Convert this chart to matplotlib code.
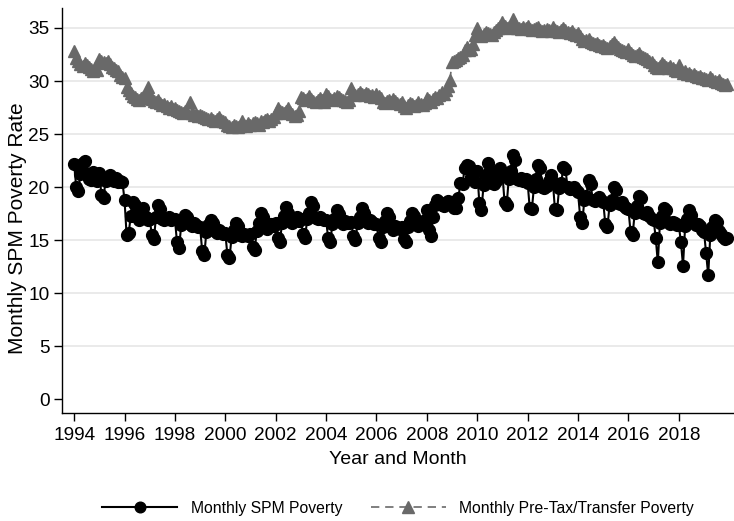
import numpy as np
import pandas as pd
import matplotlib
matplotlib.use("Agg")
import matplotlib.pyplot as plt

plt.rc('font', family=['Liberation Sans', 'DejaVu Sans'])

# monthly poverty rates, Jan 1994 - Dec 2019 (one row per year)
spm_rate = [
    22.2, 20.0, 19.6, 21.2, 22.3, 22.5, 21.2, 20.8, 20.7, 21.4, 20.9, 20.6,  # 1994
    21.3, 19.3, 19.0, 20.6, 21.0, 21.1, 20.8, 20.6, 20.9, 20.5, 20.6, 20.5,  # 1995
    18.8, 15.5, 15.7, 17.3, 18.6, 18.3, 17.2, 16.9, 17.6, 18.0, 17.2, 16.9,  # 1996
    17.0, 15.5, 15.1, 17.2, 18.3, 17.9, 17.0, 16.9, 17.0, 17.2, 16.9, 17.0,  # 1997
    17.0, 14.8, 14.3, 16.4, 17.0, 17.4, 17.2, 16.5, 16.3, 16.6, 16.4, 16.2,  # 1998
    16.2, 14.0, 13.6, 15.8, 16.4, 16.9, 16.6, 15.9, 15.7, 16.0, 15.8, 15.6,  # 1999
    15.7, 13.6, 13.3, 15.3, 16.0, 16.6, 16.3, 15.5, 15.4, 15.6, 15.5, 15.4,  # 2000
    15.6, 14.4, 14.1, 15.9, 16.6, 17.6, 17.2, 16.3, 16.1, 16.4, 16.5, 16.3,  # 2001
    16.6, 15.2, 14.8, 16.6, 17.3, 18.1, 17.6, 16.8, 16.6, 17.0, 17.2, 16.8,  # 2002
    17.0, 15.6, 15.2, 17.0, 17.6, 18.6, 18.2, 17.1, 17.0, 17.2, 17.0, 16.9,  # 2003
    16.9, 15.2, 14.8, 16.5, 17.0, 17.8, 17.5, 16.7, 16.5, 16.8, 16.6, 16.6,  # 2004
    16.7, 15.4, 15.0, 16.6, 17.2, 18.0, 17.6, 16.8, 16.6, 16.9, 16.7, 16.5,  # 2005
    16.5, 15.2, 14.8, 16.2, 16.8, 17.6, 17.2, 16.2, 16.0, 16.3, 16.2, 16.1,  # 2006
    16.2, 15.1, 14.8, 16.2, 16.8, 17.6, 17.3, 16.5, 16.3, 16.6, 16.8, 16.5,  # 2007
    17.8, 16.0, 15.4, 17.2, 18.3, 18.8, 18.6, 18.3, 18.2, 18.5, 18.7, 18.4,  # 2008
    18.6, 18.0, 18.0, 19.0, 20.4, 20.3, 21.8, 22.1, 22.0, 21.0, 20.8, 20.5,  # 2009
    21.5, 18.5, 17.8, 20.2, 21.0, 22.3, 21.6, 20.4, 20.3, 20.6, 21.0, 21.8,  # 2010
    21.2, 18.6, 18.3, 20.8, 21.5, 23.0, 22.6, 20.8, 20.7, 20.9, 20.6, 20.8,  # 2011
    20.4, 18.0, 17.9, 20.0, 20.8, 22.1, 21.8, 20.0, 19.9, 20.1, 20.6, 21.1,  # 2012
    20.5, 17.9, 17.8, 19.9, 20.4, 21.9, 21.7, 20.0, 19.8, 19.9, 20.0, 19.7,  # 2013
    19.5, 17.2, 16.6, 18.8, 19.2, 20.7, 20.3, 18.8, 18.7, 18.9, 19.1, 18.8,  # 2014
    18.6, 16.5, 16.2, 18.3, 18.8, 20.0, 19.7, 18.5, 18.4, 18.6, 18.2, 18.0,  # 2015
    17.9, 15.8, 15.5, 17.6, 18.2, 19.2, 19.0, 17.6, 17.5, 17.7, 17.3, 17.0,  # 2016
    16.9, 15.2, 12.9, 16.6, 17.3, 18.0, 17.8, 16.7, 16.5, 16.7, 16.6, 16.4,  # 2017
    16.4, 14.8, 12.6, 16.3, 17.0, 17.8, 17.4, 16.6, 16.4, 16.5, 16.3, 16.0,  # 2018
    15.8, 13.8, 11.7, 15.5, 16.2, 16.9, 16.7, 15.9, 15.6, 15.3, 15.1, 15.2,  # 2019
]

pretax_rate = [
    32.8, 32.2, 31.9, 31.6, 31.4, 31.7, 31.5, 31.3, 31.1, 30.9, 31.2, 31.0,  # 1994
    32.1, 31.9, 31.8, 31.7, 31.9, 31.6, 31.3, 31.2, 31.0, 30.9, 30.6, 30.4,  # 1995
    30.3, 29.4, 29.2, 28.9, 28.6, 28.5, 28.3, 28.2, 28.4, 28.5, 28.7, 29.4,  # 1996
    28.6, 28.3, 28.1, 28.0, 28.2, 27.9, 27.7, 27.8, 27.6, 27.5, 27.6, 27.4,  # 1997
    27.5, 27.3, 27.2, 27.1, 27.0, 27.2, 27.1, 28.0, 27.0, 26.8, 26.9, 26.7,  # 1998
    26.8, 26.7, 26.6, 26.5, 26.4, 26.5, 26.3, 26.2, 26.4, 26.6, 26.3, 26.2,  # 1999
    26.1, 25.9, 25.8, 25.7, 25.9, 25.8, 25.7, 25.8, 26.2, 25.9, 25.8, 26.0,  # 2000
    25.9, 26.0, 26.1, 26.0, 25.9, 26.2, 26.1, 26.3, 26.4, 26.2, 26.4, 26.6,  # 2001
    27.0, 27.5, 27.2, 27.1, 27.0, 27.2, 27.5, 27.1, 26.9, 26.7, 26.8, 27.2,  # 2002
    28.5, 28.4, 28.2, 28.3, 28.6, 28.3, 28.1, 28.0, 28.2, 28.4, 28.2, 28.0,  # 2003
    28.8, 28.6, 28.3, 28.2, 28.4, 28.6, 28.5, 28.3, 28.2, 28.1, 28.0, 28.2,  # 2004
    29.3, 28.9, 28.7, 28.8, 29.0, 28.8, 28.7, 28.9, 28.8, 28.6, 28.7, 28.5,  # 2005
    28.8, 28.6, 28.4, 28.0, 27.9, 28.1, 28.2, 28.0, 28.3, 28.1, 27.9, 27.8,  # 2006
    28.0, 27.6, 27.5, 27.7, 27.9, 27.8, 27.6, 27.7, 28.0, 27.8, 27.7, 27.9,  # 2007
    28.4, 28.2, 28.0, 28.3, 28.5, 28.4, 28.7, 29.0, 28.8, 29.2, 29.5, 30.1,  # 2008
    31.8, 31.9, 32.0, 32.2, 32.3, 32.5, 32.9, 33.2, 32.9, 33.0, 33.5, 34.3,  # 2009
    35.0, 34.5, 34.2, 34.4, 34.6, 34.5, 34.4, 34.3, 34.6, 34.8, 35.0, 35.2,  # 2010
    35.6, 35.2, 35.0, 35.1, 35.3, 35.8, 35.4, 35.0, 35.0, 34.9, 35.1, 35.0,  # 2011
    35.2, 34.9, 34.8, 34.9, 35.0, 35.1, 34.8, 34.7, 34.8, 34.9, 34.8, 34.7,  # 2012
    35.1, 34.8, 34.7, 34.6, 34.8, 35.0, 34.8, 34.6, 34.5, 34.7, 34.4, 34.3,  # 2013
    34.5, 34.2, 34.0, 33.8, 33.9, 34.0, 33.7, 33.6, 33.5, 33.6, 33.4, 33.3,  # 2014
    33.4, 33.2, 33.1, 33.3, 33.5, 33.7, 33.4, 33.2, 33.0, 32.9, 32.8, 32.7,  # 2015
    33.0, 32.6, 32.5, 32.4, 32.5, 32.6, 32.4, 32.3, 32.2, 32.1, 31.9, 31.8,  # 2016
    31.5, 31.3, 31.2, 31.4, 31.7, 31.5, 31.3, 31.2, 31.4, 31.2, 31.0, 30.9,  # 2017
    31.5, 31.0, 30.8, 30.9, 30.7, 30.8, 30.6, 30.7, 30.5, 30.4, 30.5, 30.3,  # 2018
    30.3, 30.2, 30.1, 30.4, 30.2, 30.0, 29.9, 30.1, 29.8, 29.7, 29.6, 29.7,  # 2019
]

year_ticks = list(range(1994, 2019, 2))
y_ticks = [0, 5, 10, 15, 20, 25, 30, 35]

# decimal year for each month
months = pd.period_range('1994-01', periods=len(spm_rate), freq='M')
t = months.year + (months.month - 1) / 12.0

fig = plt.figure(figsize=(7.34, 5.21), dpi=100)
ax = fig.add_axes([0.0845, 0.207, 0.9155, 0.778])

ax.plot(t, spm_rate, color='black', linestyle='-', linewidth=1.5,
        marker='o', markersize=8.5, label='Monthly SPM Poverty', zorder=3)
ax.plot(t, pretax_rate, color='#696969', linestyle=(0, (5, 3.5)), linewidth=1.2,
        marker='^', markersize=9, label='Monthly Pre-Tax/Transfer Poverty', zorder=3)

ax.set_xlim(1993.52, 2020.19)
ax.set_ylim(-1.3, 36.9)
ax.set_xticks(year_ticks)
ax.set_xticklabels([str(y) for y in year_ticks])
ax.set_yticks(y_ticks)

# light horizontal grid, none at zero
for yv in y_ticks[1:]:
    ax.axhline(yv, color='#e8e8e8', linewidth=1.3, zorder=0)

for side in ['top', 'right']:
    ax.spines[side].set_visible(False)
ax.spines['left'].set_linewidth(1.0)
ax.spines['bottom'].set_linewidth(1.0)
ax.tick_params(axis='both', direction='out', length=6, width=1.0, labelsize=13.7)
ax.tick_params(axis='x', pad=3.8)
ax.tick_params(axis='y', pad=3.0)

ax.set_xlabel('Year and Month', fontsize=14, labelpad=5.5)
ax.set_ylabel('Monthly SPM Poverty Rate', fontsize=15)
ax.yaxis.set_label_coords(-0.052, 0.457)

ax.legend(loc='center', bbox_to_anchor=(0.5, -0.235), ncol=2, frameon=False,
          fontsize=11.3, handlelength=4.8, handletextpad=0.85, columnspacing=1.8,
          markerscale=0.9)

fig.savefig('out.png', dpi=100)
